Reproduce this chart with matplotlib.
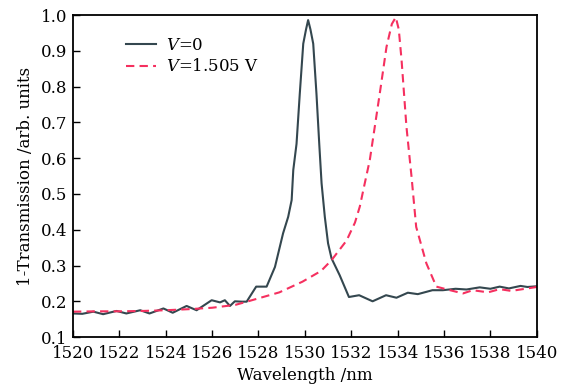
import numpy as np
import matplotlib
matplotlib.use("Agg")
import matplotlib.pyplot as plt

plt.rcParams['font.family'] = ['DejaVu Serif']
plt.rcParams['mathtext.fontset'] = 'dejavuserif'

# V = 0 spectrum
wl_v0 = [1520, 1520.4, 1520.88, 1521.3, 1521.88, 1522.3, 1522.9, 1523.3, 1523.9, 1524.3,
         1524.9, 1525.33, 1525.98, 1526.34, 1526.55, 1526.77, 1526.98, 1527.27, 1527.49, 1527.9,
         1528.35, 1528.71, 1529.06, 1529.28, 1529.43, 1529.5, 1529.64, 1529.78, 1529.93, 1530.05,
         1530.14, 1530.24, 1530.36, 1530.5, 1530.62, 1530.72, 1530.86, 1531.0, 1531.15, 1531.5,
         1531.9, 1532.34, 1532.92, 1533.5, 1533.95, 1534.44, 1534.87, 1535.5, 1535.95, 1536.5,
         1536.97, 1537.54, 1538.0, 1538.4, 1538.8, 1539.3, 1539.6, 1540]
tr_v0 = [0.166, 0.165, 0.171, 0.164, 0.173, 0.166, 0.175, 0.166, 0.180, 0.168,
         0.187, 0.175, 0.203, 0.197, 0.203, 0.187, 0.200, 0.199, 0.199, 0.241,
         0.241, 0.296, 0.390, 0.436, 0.483, 0.567, 0.640, 0.780, 0.920, 0.960,
         0.986, 0.960, 0.920, 0.780, 0.640, 0.530, 0.436, 0.362, 0.320, 0.273,
         0.212, 0.217, 0.200, 0.217, 0.210, 0.224, 0.220, 0.231, 0.231, 0.235,
         0.233, 0.239, 0.235, 0.241, 0.236, 0.243, 0.240, 0.242]

# V = 1.505 V spectrum
wl_v1 = [1520, 1521, 1522, 1523, 1524, 1525, 1526, 1527, 1527.5, 1528.9,
         1529.9, 1530.7, 1531.15, 1531.8, 1532.16, 1532.37, 1532.52, 1532.8, 1533.23, 1533.52,
         1533.75, 1533.92, 1534.05, 1534.17, 1534.38, 1534.6, 1534.8, 1535.24, 1535.67, 1536.2,
         1536.82, 1537.24, 1537.9, 1538.4, 1538.9, 1539.5, 1540]
tr_v1 = [0.171, 0.172, 0.172, 0.173, 0.175, 0.178, 0.182, 0.190, 0.199, 0.225,
         0.255, 0.285, 0.315, 0.370, 0.420, 0.465, 0.511, 0.595, 0.781, 0.911,
         0.975, 0.994, 0.960, 0.874, 0.688, 0.548, 0.408, 0.306, 0.241, 0.232,
         0.222, 0.231, 0.225, 0.234, 0.229, 0.235, 0.240]

x_ticks = np.arange(1520, 1541, 2)
y_ticks = np.round(np.arange(0.1, 1.01, 0.1), 1)

fig = plt.figure(figsize=(5.68, 3.87), dpi=100)
ax = fig.add_axes([0.1285, 0.129, 0.8165, 0.832])

ax.plot(wl_v0, tr_v0, color='#34474f', lw=1.5, label='$V$=0')
ax.plot(wl_v1, tr_v1, color='#f5305f', lw=1.5, ls=(0, (4, 2.5)), label='$V$=1.505 V')

ax.set_xlim(1520, 1540)
ax.set_ylim(0.1, 1.0)
ax.set_xticks(x_ticks)
ax.set_yticks(y_ticks)
ax.set_yticklabels([f"{v:.1f}" for v in y_ticks])
ax.tick_params(direction='in', length=5, width=1, labelsize=12)
ax.tick_params(axis='x', pad=6)
ax.tick_params(axis='y', pad=4)
for s in ax.spines.values():
    s.set_linewidth(1.3)

ax.set_xlabel('Wavelength /nm', fontsize=12, labelpad=3)
ax.set_ylabel('1-Transmission /arb. units', fontsize=12, labelpad=5)

ax.legend(loc='upper left', bbox_to_anchor=(0.083, 0.978), frameon=False,
          fontsize=12, handlelength=1.8, handletextpad=0.6, labelspacing=0.25)

plt.savefig('out.png', dpi=100)
